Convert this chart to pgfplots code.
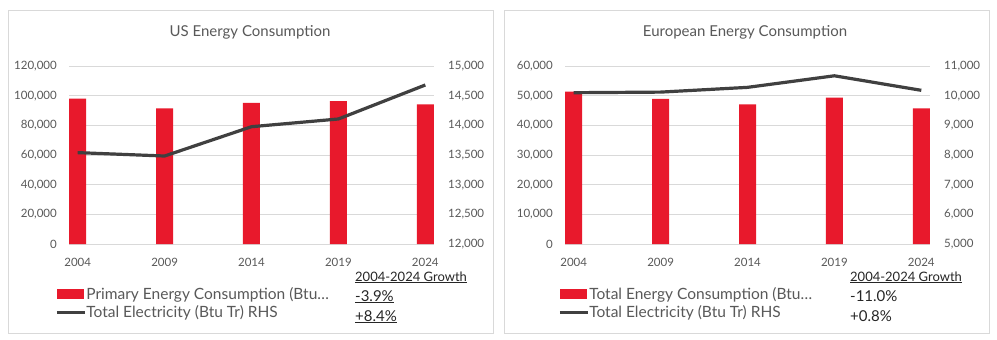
\documentclass[border=0pt]{standalone}
\usepackage{pgfplots}
\pgfplotsset{compat=1.18}
\usepackage{fontspec}
\setmainfont{Lato}
\definecolor{barred}{HTML}{E8192C}
\definecolor{linegray}{HTML}{404040}
\definecolor{gridgray}{HTML}{D9D9D9}
\definecolor{txtgray}{HTML}{595959}
\definecolor{txtdark}{HTML}{262626}

\pgfplotsset{
  panel/.style={
    scale only axis, width=365pt, height=178pt,
    xmin=-0.1, xmax=4.1, anchor=south west,
    axis line style={draw=none}, tick style={draw=none},
    major tick length=0pt,
    scaled y ticks=false,
    tick label style={font=\fontsize{11.5}{13}\selectfont, text=txtgray, inner sep=0pt},
    clip=false,
  },
  barsaxis/.style={
    panel,
    ymajorgrids, grid style={gridgray, line width=1pt},
    xtick={0,1,2,3,4}, xticklabels={2004,2009,2014,2019,2024},
    xticklabel style={anchor=base, yshift=-22pt},
    yticklabel style={anchor=east, xshift=-12pt},
    legend cell align=left,
    legend style={anchor=north west, draw=none, fill=none, inner sep=0pt,
      font=\fontsize{15.5}{19}\selectfont, text=txtgray, row sep=2pt,
      nodes={inner sep=1.5pt}, column sep=-1.5pt},
  },
  lineaxis/.style={
    panel, xtick=\empty, yticklabel pos=right,
    yticklabel style={anchor=west, xshift=14pt},
  },
  barstyle/.style={ybar, bar width=17pt, fill=barred, draw=none,
    legend image code/.code={\fill[barred] (0pt,-5pt) rectangle (27pt,5pt);}},
  linestyle/.style={linegray, line width=3.2pt, line join=round, mark=none,
    legend image code/.code={\draw[linegray, line width=3pt] (0pt,0pt) -- (28pt,0pt);}},
}

\begin{document}
\begin{tikzpicture}[x=1pt,y=1pt]
\useasboundingbox[fill=white] (0,0) rectangle (997,-340);
% panel frames
\draw[gridgray, line width=1pt] (8,-10) rectangle (493,-333);
\draw[gridgray, line width=1pt] (504,-10) rectangle (989,-333);

% ---------------- US ----------------
\begin{axis}[barsaxis, at={(69pt,-244pt)}, ymin=0, ymax=120000,
  ytick={0,20000,40000,60000,80000,100000,120000},
  yticklabels={0,{20,000},{40,000},{60,000},{80,000},{100,000},{120,000}},
  legend style={at={(axis description cs:-0.038,-0.232)}}]
\addplot[barstyle] coordinates {(0,98000) (1,91500) (2,95100) (3,96400) (4,94200)};
\addlegendentry{Primary Energy Consumption (Btu…}
\addlegendimage{linestyle}
\addlegendentry{Total Electricity (Btu Tr) RHS}
\end{axis}
\begin{axis}[lineaxis, at={(69pt,-244pt)}, ymin=12000, ymax=15000,
  ytick={12000,12500,13000,13500,14000,14500,15000},
  yticklabels={{12,000},{12,500},{13,000},{13,500},{14,000},{14,500},{15,000}}]
\addplot[linestyle] coordinates {(0,13540) (1,13483) (2,13977) (3,14107) (4,14680)};
\end{axis}
\node[anchor=base, font=\fontsize{15}{18}\selectfont, text=txtgray] at (250,-36) {US Energy Consumption};
\node[anchor=base west, inner sep=0pt, font=\fontsize{13}{15}\selectfont, text=txtdark] at (355,-281) {\underline{2004-2024 Growth}};
\node[anchor=base west, inner sep=0pt, font=\fontsize{15}{18}\selectfont, text=txtdark] at (355,-301) {\underline{-3.9\%}};
\node[anchor=base west, inner sep=0pt, font=\fontsize{15}{18}\selectfont, text=txtdark] at (355,-321) {\underline{+8.4\%}};

% ---------------- Europe ----------------
\begin{axis}[barsaxis, at={(565pt,-244pt)}, ymin=0, ymax=60000,
  ytick={0,10000,20000,30000,40000,50000,60000},
  yticklabels={0,{10,000},{20,000},{30,000},{40,000},{50,000},{60,000}},
  legend style={at={(axis description cs:-0.019,-0.232)}}]
\addplot[barstyle] coordinates {(0,51400) (1,48900) (2,47100) (3,49300) (4,45750)};
\addlegendentry{Total Energy Consumption (Btu…}
\addlegendimage{linestyle}
\addlegendentry{Total Electricity (Btu Tr) RHS}
\end{axis}
\begin{axis}[lineaxis, at={(565pt,-244pt)}, ymin=5000, ymax=11000,
  ytick={5000,6000,7000,8000,9000,10000,11000},
  yticklabels={{5,000},{6,000},{7,000},{8,000},{9,000},{10,000},{11,000}}]
\addplot[linestyle] coordinates {(0,10100) (1,10120) (2,10280) (3,10670) (4,10180)};
\end{axis}
\node[anchor=base, font=\fontsize{15}{18}\selectfont, text=txtgray] at (745,-36) {European Energy Consumption};
\node[anchor=base west, inner sep=0pt, font=\fontsize{13}{15}\selectfont, text=txtdark] at (850,-281) {\underline{2004-2024 Growth}};
\node[anchor=base west, inner sep=0pt, font=\fontsize{15}{18}\selectfont, text=txtdark] at (850,-301) {-11.0\%};
\node[anchor=base west, inner sep=0pt, font=\fontsize{15}{18}\selectfont, text=txtdark] at (850,-321) {+0.8\%};
\end{tikzpicture}
\end{document}
